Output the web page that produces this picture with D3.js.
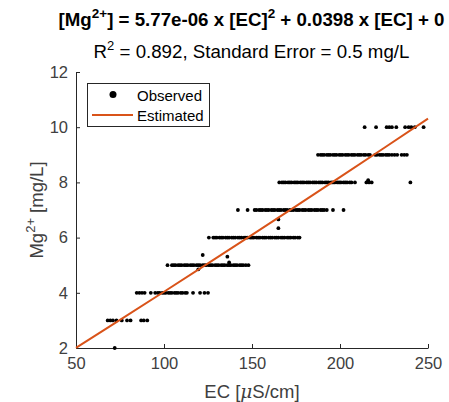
<!DOCTYPE html>
<html>
<head>
<meta charset="utf-8">
<script src="https://cdn.jsdelivr.net/npm/d3@7"></script>
<style>
  body { margin: 0; background: #fff; }
  svg { display: block; font-family: "Liberation Sans", Arial, Helvetica, sans-serif; }
</style>
</head>
<body>
<svg id="chart" width="449" height="402"></svg>
<script>
// observed Mg levels (mg/L) and EC values (uS/cm) read along each level
const mgLevels = [2, 3, 4, 5, 6, 7, 8, 9, 10];
const obs2 = [72];
const obs3 = [68, 69.5, 71, 73, 76, 79, 81, 87, 88.5, 90.5];
const obs4 = [84.5, 86, 87.5, 89, 92.5, 95, 96.5, 97.5, 99, 100, 101, 102.5, 103.5, 104.5, 106, 107, 108,
  109.5, 110.5, 112, 113, 116.5, 120.5, 123, 125];
const obs5 = [102, 104.5, 105.5, 106.5, 108, 109, 110, 111.5, 112.5, 113.5, 115, 116, 117, 118.5, 119.5,
  120.5, 122, 123, 124, 125.5, 126.5, 127.5, 129, 130, 131, 132.5, 133.5, 134.5, 136, 137, 138, 139.5,
  140.5, 141.5, 143, 144, 145, 146.5, 148];
const obs6 = [125.5, 128, 129, 130, 131.5, 132.5, 133.5, 135, 136, 137, 138.5, 139.5, 140.5, 142, 143, 144,
  145.5, 146.5, 147.5, 149, 150, 151, 152.5, 153.5, 154.5, 156, 157, 158, 159.5, 160.5, 161.5, 163, 164,
  165, 166.5, 167.5, 168.5, 170, 171, 172, 173.5, 174.5, 176, 177];
const obs7 = [142, 147.5, 151.5, 152.5, 154, 155, 156, 157.5, 158.5, 159.5, 161, 162, 163, 164.5, 165.5,
  166.5, 168, 169, 170, 171.5, 172.5, 173.5, 175, 176, 177, 178.5, 179.5, 180.5, 182, 183, 184, 185.5,
  186.5, 187.5, 189, 190, 191, 192.5, 196, 202];
const obs8 = [165.5, 167, 168, 169, 170.5, 171.5, 172.5, 174, 175, 176, 177.5, 178.5, 179.5, 181, 182, 183,
  184.5, 185.5, 186.5, 188, 189, 190, 191.5, 192.5, 193.5, 195, 196, 197, 198.5, 199.5, 200.5, 202, 203,
  204, 205.5, 206.5, 208.5, 215, 216.5, 218, 240];
const obs9 = [187.5, 189, 190, 191, 192.5, 193.5, 194.5, 196, 197, 198, 199.5, 200.5, 201.5, 203, 204, 205,
  206.5, 207.5, 208.5, 210, 211, 212, 213.5, 214.5, 216, 217, 220, 221, 222.5, 223.5, 224.5, 226, 227,
  228, 229.5, 231, 232.5, 235, 236.5, 238];
const obs10 = [214, 220.5, 226.5, 228, 229.5, 232, 237, 239, 240.5, 242.5, 247.5];
const obsRows = [obs2, obs3, obs4, obs5, obs6, obs7, obs8, obs9, obs10];

// off-level observations
const extraEC = [119.5, 122, 136, 137, 165, 165, 216];
const extraMg = [4.85, 5.37, 5.31, 5.1, 6.34, 6.66, 8.08];

// estimated curve
const estEC = [50, 75, 100, 125, 150, 175, 200, 225, 250];
const estMg = [2.004, 3.017, 4.038, 5.065, 6.100, 7.142, 8.191, 9.247, 10.311];

const xTicks = [50, 100, 150, 200, 250];
const yTicks = [2, 4, 6, 8, 10, 12];

const titleLine1 = ['[Mg', '2+', '] = 5.77e-06 x [EC]', '2', ' + 0.0398 x [EC] + 0'];
const titleLine2 = ['R', '2', ' = 0.892, Standard Error = 0.5 mg/L'];

const points = [];
obsRows.forEach((row, i) => row.forEach(ec => points.push({ ec, mg: mgLevels[i] })));
extraEC.forEach((ec, i) => points.push({ ec, mg: extraMg[i] }));

const svg = d3.select('#chart');
const margin = { left: 76, right: 21, top: 72, bottom: 54 };
const W = 449, H = 402;

const x = d3.scaleLinear().domain([50, 250]).range([margin.left, W - margin.right]);
const y = d3.scaleLinear().domain([2, 12]).range([H - margin.bottom, margin.top]);

const axisColor = '#262626';
const textColor = '#404040';
const orange = '#D95319';

// axes (box off, ticks pointing in)
const gx = svg.append('g')
  .attr('transform', `translate(0,${y(2)})`)
  .call(d3.axisBottom(x).tickValues(xTicks).tickSizeInner(-4).tickSizeOuter(0).tickPadding(9));
const gy = svg.append('g')
  .attr('transform', `translate(${x(50)},0)`)
  .call(d3.axisLeft(y).tickValues(yTicks).tickSizeInner(-4).tickSizeOuter(0).tickPadding(8));

[gx, gy].forEach(g => {
  g.select('.domain').attr('stroke', axisColor).attr('stroke-width', 1);
  g.selectAll('.tick line').attr('stroke', axisColor);
  g.selectAll('.tick text').attr('fill', textColor).style('font-size', '16.5px')
    .style('font-family', '"Liberation Sans", Arial, sans-serif');
});

// observed points
svg.append('g').selectAll('circle')
  .data(points)
  .join('circle')
  .attr('cx', d => x(d.ec))
  .attr('cy', d => y(d.mg))
  .attr('r', 1.9)
  .attr('fill', '#000');

// estimated curve
const line = d3.line().x((d, i) => x(estEC[i])).y(d => y(d)).curve(d3.curveMonotoneX);
svg.append('path')
  .attr('d', line(estMg))
  .attr('fill', 'none')
  .attr('stroke', orange)
  .attr('stroke-width', 2);

// axis labels
svg.append('text')
  .attr('x', (x(50) + x(250)) / 2)
  .attr('y', 398)
  .attr('text-anchor', 'middle')
  .attr('fill', textColor)
  .style('font-size', '18.5px')
  .call(t => {
    t.append('tspan').text('EC [');
    t.append('tspan').style('font-family', '"DejaVu Serif", serif').style('font-style', 'italic').text('μ');
    t.append('tspan').text('S/cm]');
  });

svg.append('text')
  .attr('transform', `translate(43,${(y(2) + y(12)) / 2}) rotate(-90)`)
  .attr('text-anchor', 'middle')
  .attr('fill', textColor)
  .style('font-size', '18.5px')
  .call(t => {
    t.append('tspan').text('Mg');
    t.append('tspan').attr('dy', -8).style('font-size', '13px').text('2+');
    t.append('tspan').attr('dy', 8).text(' [mg/L]');
  });

// titles
function supText(sel, parts, supSize) {
  parts.forEach((p, i) => {
    const ts = sel.append('tspan').text(p);
    if (i % 2 === 1) ts.attr('dy', -8).style('font-size', supSize);
    else if (i > 0) ts.attr('dy', 8);
  });
}
svg.append('text')
  .attr('x', 251.5).attr('y', 26)
  .attr('text-anchor', 'middle')
  .attr('fill', '#000')
  .style('font-size', '18.7px')
  .style('font-weight', 'bold')
  .call(t => supText(t, titleLine1, '13.5px'));

svg.append('text')
  .attr('x', 251.5).attr('y', 58)
  .attr('text-anchor', 'middle')
  .attr('fill', '#000')
  .style('font-size', '18.7px')
  .call(t => supText(t, titleLine2, '13px'));

// legend
const lg = svg.append('g');
lg.append('rect')
  .attr('x', 87.5).attr('y', 83.5).attr('width', 122).attr('height', 43)
  .attr('fill', '#fff').attr('stroke', axisColor).attr('stroke-width', 1);
lg.append('circle').attr('cx', 113).attr('cy', 94.5).attr('r', 3.5).attr('fill', '#000');
lg.append('line').attr('x1', 92).attr('x2', 133).attr('y1', 115).attr('y2', 115)
  .attr('stroke', orange).attr('stroke-width', 2);
lg.append('text').attr('x', 137).attr('y', 100.5).attr('fill', '#000').style('font-size', '15px').text('Observed');
lg.append('text').attr('x', 137).attr('y', 121).attr('fill', '#000').style('font-size', '15px').text('Estimated');
</script>
</body>
</html>
